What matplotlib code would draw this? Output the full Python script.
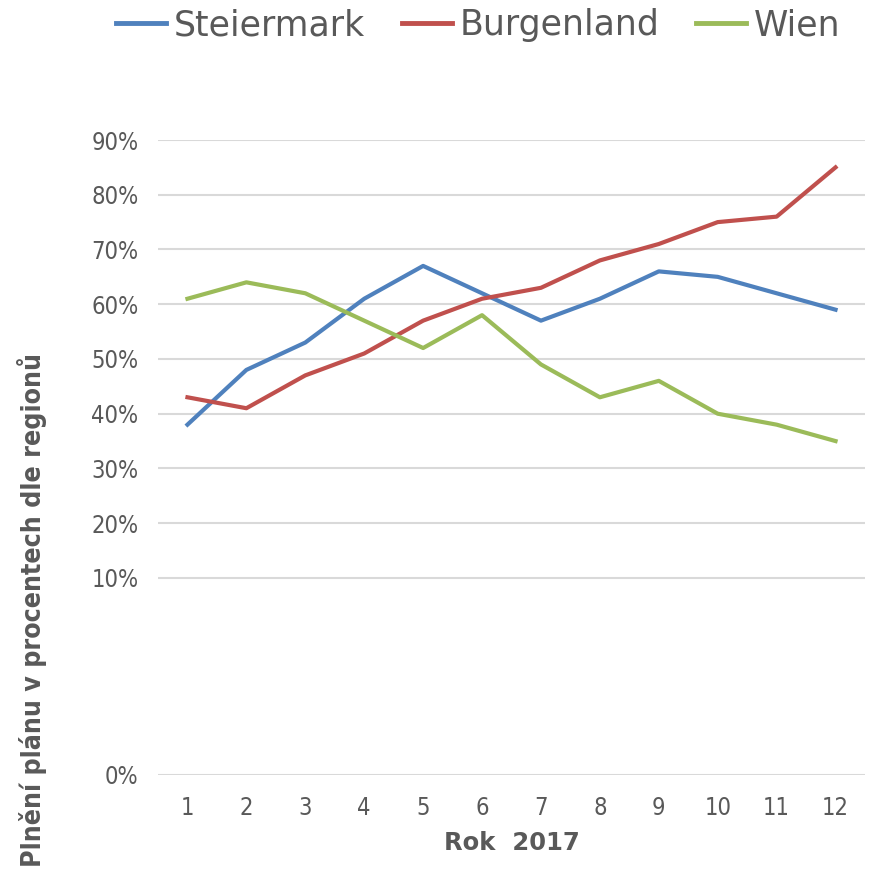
import matplotlib.pyplot as plt

# data (percent)
mesice = [1, 2, 3, 4, 5, 6, 7, 8, 9, 10, 11, 12]
steiermark = [38, 48, 53, 61, 67, 62, 57, 61, 66, 65, 62, 59]
burgenland = [43, 41, 47, 51, 57, 61, 63, 68, 71, 75, 76, 85]
wien = [61, 64, 62, 57, 52, 58, 49, 43, 46, 40, 38, 35]

# the original axis puts its "0%" line well below the 10% step
osa_dno = -26
ytick_hodnoty = [osa_dno, 10, 20, 30, 40, 50, 60, 70, 80, 90]
ytick_popisky = ["0%", "10%", "20%", "30%", "40%", "50%", "60%", "70%", "80%", "90%"]

seda = "#595959"
fig = plt.figure(figsize=(8.7, 8.81), dpi=100)
ax = fig.add_axes([158 / 870, 1 - 775 / 881, 707 / 870, 635 / 881])

ax.plot(mesice, steiermark, color="#4F81BD", lw=3, label="Steiermark")
ax.plot(mesice, burgenland, color="#C0504D", lw=3, label="Burgenland")
ax.plot(mesice, wien, color="#9BBB59", lw=3, label="Wien")

ax.set_xlim(0.5, 12.5)
ax.set_ylim(osa_dno, 90)
ax.set_xticks(mesice)
ax.set_xticklabels([str(m) for m in mesice])
ax.set_yticks(ytick_hodnoty)
ax.set_yticklabels(ytick_popisky)
ax.tick_params(axis="both", length=0, colors=seda)
ax.tick_params(axis="y", pad=14)
ax.tick_params(axis="x", pad=15)
for t in ax.get_xticklabels() + ax.get_yticklabels():
    t.set_fontsize(17)
    t.set_fontstretch("condensed")
ax.grid(axis="y", color="#D9D9D9", lw=1.5)
ax.set_axisbelow(True)
for s in ax.spines.values():
    s.set_visible(False)

ax.set_xlabel("Rok  2017", fontsize=17.5, fontweight="bold", color=seda, labelpad=8)
fig.text(32 / 870, 1 - 353 / 881, "Plnění plánu v procentech dle regionů",
         rotation=90, ha="center", va="top", fontsize=19.2, fontweight="bold",
         fontstretch="condensed", color=seda)

leg = fig.legend(loc="center", bbox_to_anchor=(0.55, 1 - 25 / 881), ncol=3, frameon=False,
                 fontsize=25, borderpad=0,
                 handlelength=1.44, handletextpad=0.23, columnspacing=1.05)
for t in leg.get_texts():
    t.set_color(seda)
for h in leg.get_lines():
    h.set_linewidth(3.5)

fig.savefig("out.png", dpi=100)
